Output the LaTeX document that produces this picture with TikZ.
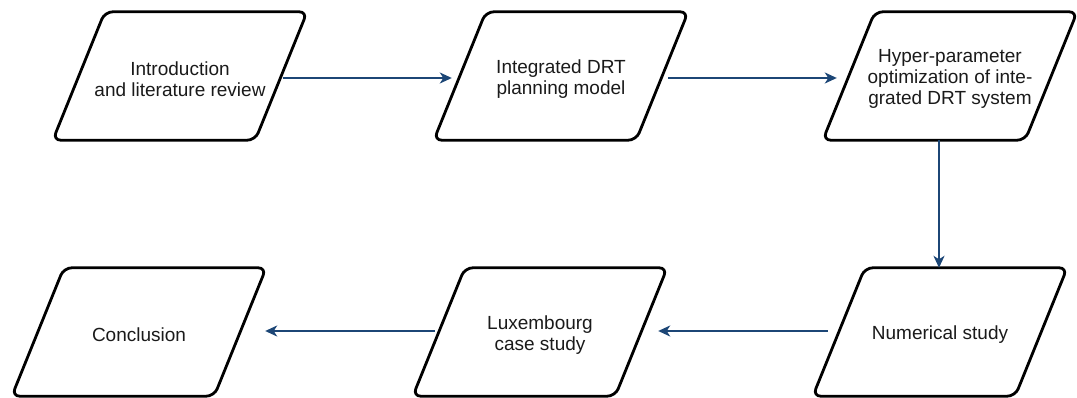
\documentclass[tikz,border=0pt]{standalone}
\usepackage{fontspec}
\setmainfont{Liberation Sans}
\usetikzlibrary{arrows.meta}
\definecolor{flowblue}{RGB}{28,70,118}
\definecolor{inktext}{RGB}{26,26,26}
\begin{document}
\begin{tikzpicture}[x=1pt,y=-1pt,
  stage/.style={rectangle, minimum width=202pt, minimum height=128pt,
    inner sep=0pt, align=center, text=inktext,
    font=\fontsize{19}{21}\selectfont},
  stagetext/.style={yshift=-3pt},
  stageline/.style={draw=black, line width=2.8pt, rounded corners=8pt, line join=round},
  flow/.style={draw=flowblue, line width=1.8pt,
    -{Stealth[length=12pt,width=11pt,inset=3.5pt]}}]
\useasboundingbox (0,0) rectangle (1077,398);

% stages, top row left to right, bottom row right to left
\node[stage] (intro) at (180,76) {};
\node[stage] (model) at (561,76) {};
\node[stage] (hyper) at (950,76) {};
\node[stage] (numer) at (940,332) {};
\node[stage] (luxem) at (540,332) {};
\node[stage] (concl) at (139,332) {};

% labels, set a little below each centre
\node[stage, stagetext, minimum width=0pt, minimum height=0pt] (introtxt) at (intro) {Introduction\\and literature review};
\node[stage, stagetext, minimum width=0pt, minimum height=0pt] (modeltxt) at (model) {Integrated DRT\\planning model};
\node[stage, stagetext, minimum width=0pt, minimum height=0pt] (hypertxt) at (hyper) {Hyper-parameter\\optimization of inte-\\grated DRT system};
\node[stage, stagetext, minimum width=0pt, minimum height=0pt] (numertxt) at (numer) {Numerical study};
\node[stage, stagetext, minimum width=0pt, minimum height=0pt] (luxemtxt) at (luxem) {Luxembourg\\case study};
\node[stage, stagetext, minimum width=0pt, minimum height=0pt] (concltxt) at (concl) {Conclusion};

% slanted outlines around each stage
\foreach \b in {intro,model,hyper,numer,luxem,concl}
  \draw[stageline] ([xshift=26pt]\b.north) -- ([xshift=26pt]\b.north east)
    -- ([xshift=-26pt]\b.south east) -- ([xshift=-26pt]\b.south west)
    -- ([xshift=26pt]\b.north west) -- cycle;

% connectors
\draw[flow] ([xshift=2pt,yshift=-2pt]intro.east) -- ([xshift=-8pt,yshift=-2pt]model.west);
\draw[flow] ([xshift=6pt,yshift=-2pt]model.east) -- ([xshift=-12pt,yshift=-2pt]hyper.west);
\draw[flow] ([xshift=-11pt]hyper.south) -- ([xshift=-1pt]numer.north);
\draw[flow] ([xshift=-11pt,yshift=1pt]numer.west) -- ([xshift=17pt,yshift=1pt]luxem.east);
\draw[flow] ([xshift=-4pt,yshift=1pt]luxem.west) -- ([xshift=25pt,yshift=1pt]concl.east);
\end{tikzpicture}
\end{document}
